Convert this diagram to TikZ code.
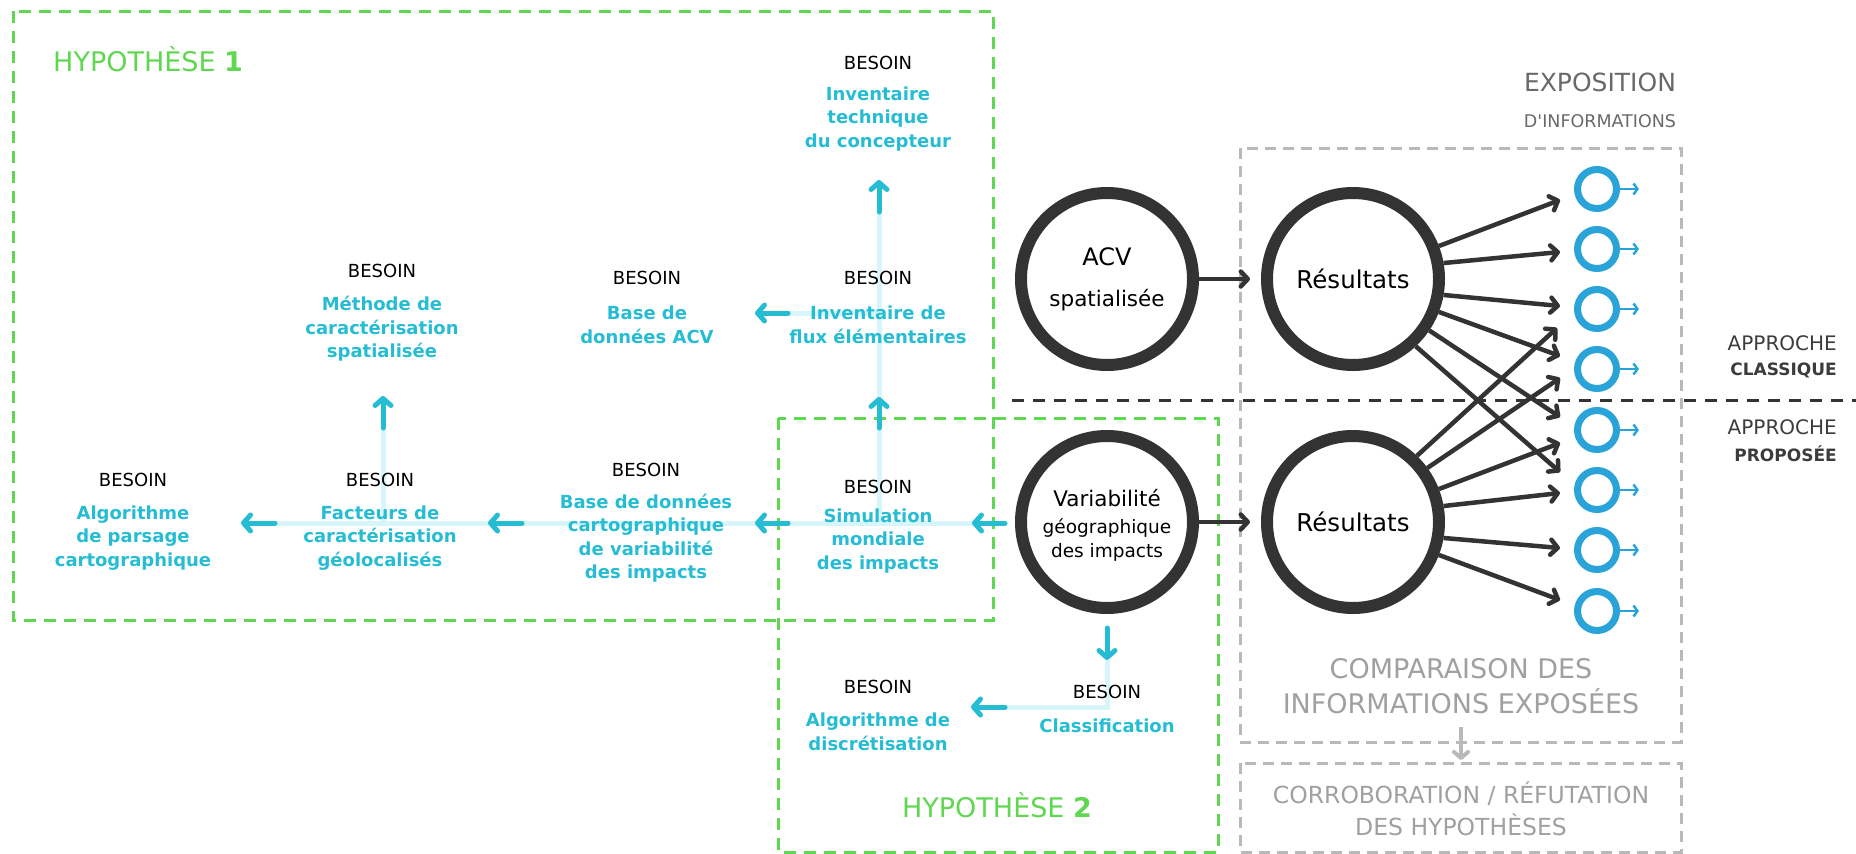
\documentclass[tikz,border=0pt]{standalone}
\usepackage{fontspec}
\setmainfont{DejaVu Sans}
\usetikzlibrary{arrows.meta}
\definecolor{cyT}{RGB}{38,188,212}
\definecolor{cyL}{RGB}{214,246,252}
\definecolor{grn}{RGB}{95,215,80}
\definecolor{drk}{RGB}{51,51,51}
\definecolor{gbox}{RGB}{185,185,185}
\definecolor{gtxt}{RGB}{160,160,160}
\definecolor{gexp}{RGB}{105,105,105}
\definecolor{gapp}{RGB}{60,60,60}
\definecolor{blu}{RGB}{42,163,216}
\begin{document}
\begin{tikzpicture}[x=1pt,y=-1pt,
  need/.style={font=\fontsize{18}{22}\selectfont, text=black, inner sep=0pt},
  lab/.style={font=\fontsize{18}{23.5}\selectfont\bfseries, text=cyT, align=center, inner sep=0pt},
  link/.style={cyL, line width=5pt},
  carrow/.style={cyT, line width=5pt, line cap=round, -{Straight Barb[length=7pt,width=16pt,round]}},
  karrow/.style={drk, line width=4.5pt, -{Straight Barb[length=7pt,width=15pt,round]}},
  garrow/.style={gbox, line width=4pt, -{Straight Barb[length=6pt,width=14pt,round]}},
  big/.style={circle, draw=drk, line width=12pt, minimum size=172pt, inner sep=0pt},
  ring/.style={circle, draw=blu, line width=7pt, minimum size=39pt, inner sep=0pt},
  barrow/.style={blu, line width=2.5pt, -{Straight Barb[length=4pt,width=11pt]}},
  hyp/.style={draw=grn, line width=3pt, dash pattern=on 12pt off 8pt},
  gbx/.style={draw=gbox, line width=3pt, dash pattern=on 11pt off 7pt},
  sep/.style={draw=drk, line width=3pt, dash pattern=on 12pt off 9pt},
  ctext/.style={font=\fontsize{24.5}{26}\selectfont, text=black, inner sep=0pt, anchor=base},
]
\useasboundingbox (0,0) rectangle (1856,854);

% hypothesis frames
\draw[hyp] (13,11) rectangle (993,620);
\draw[hyp] (778,418) rectangle (1218,852);
\node[font=\fontsize{27}{27}\selectfont, text=grn, anchor=base west, inner sep=0pt] (h1) at (53,71) {HYPOTHÈSE {\bfseries 1}};
\node[font=\fontsize{27}{27}\selectfont, text=grn, anchor=base, inner sep=0pt] (h2) at (997,817) {HYPOTHÈSE {\bfseries 2}};

% gray frames
\draw[gbx] (1240,148) rectangle (1681,742);
\draw[gbx] (1240,763) rectangle (1681,852);
% separator
\coordinate (s1) at (1012,400);
\coordinate (s2) at (1856,400);
\draw[sep] (s1) -- (s2);

% tree coordinates
\coordinate (a5t) at (275,523); \coordinate (a5h) at (241,523);
\coordinate (a6t) at (522,523); \coordinate (a6h) at (488,523);
\coordinate (a7t) at (788,523); \coordinate (a7h) at (755,523);
\coordinate (a8t) at (1005,523); \coordinate (a8h) at (972,523);
\coordinate (j6) at (383,523); \coordinate (a4t) at (383,428); \coordinate (a4h) at (383,396);
\coordinate (j8) at (879,523);
\coordinate (a2t) at (879,428); \coordinate (a2h) at (879,397);
\coordinate (a1t) at (879,212); \coordinate (a1h) at (879,180);
\coordinate (j2) at (879,313); \coordinate (a3t) at (788,313); \coordinate (a3h) at (755,313);
\coordinate (a10t) at (1107,628); \coordinate (a10h) at (1107,660);
\coordinate (j10) at (1107,707); \coordinate (a9t) at (1005,707); \coordinate (a9h) at (971,707);

% light links
\draw[link] (a5t) -- (a8t);
\draw[link] (j6) -- (a4t);
\draw[link] (j8) -- (a1t);
\draw[link] (j2) -- (a3t);
\draw[link] (a10h) -- (j10) -- (a9t);

% cyan arrows
\foreach \t/\h in {a1t/a1h,a2t/a2h,a3t/a3h,a4t/a4h,a5t/a5h,a6t/a6h,a7t/a7h,a8t/a8h,a9t/a9h,a10t/a10h}
  \draw[carrow] (\t) -- (\h);

% needs
\node[need] (b1) at (878,63) {BESOIN};
\node[lab] (l1) at (878,119) {Inventaire\\technique\\du concepteur};
\node[need] (b2) at (878,278) {BESOIN};
\node[lab] (l2) at (878,325) {Inventaire de\\flux élémentaires};
\node[need] (b3) at (647,278) {BESOIN};
\node[lab] (l3) at (647,325) {Base de\\données ACV};
\node[need] (b4) at (382,271) {BESOIN};
\node[lab] (l4) at (382,329) {Méthode de\\caractérisation\\spatialisée};
\node[need] (b5) at (133,480) {BESOIN};
\node[lab] (l5) at (133,538) {Algorithme\\de parsage\\cartographique};
\node[need] (b6) at (380,480) {BESOIN};
\node[lab] (l6) at (380,538) {Facteurs de\\caractérisation\\géolocalisés};
\node[need] (b7) at (646,470) {BESOIN};
\node[lab] (l7) at (646,538) {Base de données\\cartographique\\de variabilité\\des impacts};
\node[need] (b8) at (878,487) {BESOIN};
\node[lab] (l8) at (878,541) {Simulation\\mondiale\\des impacts};
\node[need] (b9) at (878,687) {BESOIN};
\node[lab] (l9) at (878,732) {Algorithme de\\discrétisation};
\node[need] (b10) at (1107,692) {BESOIN};
\node[lab] (l10) at (1107,726) {Classification};

% big circles
\node[big] (acv) at (1107,279) {};
\node[big] (res1) at (1353,279) {};
\node[big] (var) at (1107,522) {};
\node[big] (res2) at (1353,522) {};
\node[ctext, font=\fontsize{24}{26}\selectfont] (acvt1) at (1107,265) {ACV};
\node[ctext, font=\fontsize{21.5}{24}\selectfont] (acvt2) at (1107,306) {spatialisée};
\node[ctext] (res1t) at (1353,288) {Résultats};
\node[ctext] (res2t) at (1353,531) {Résultats};
\node[ctext, font=\fontsize{21.5}{24}\selectfont] (vart1) at (1107,506) {Variabilité};
\node[ctext, font=\fontsize{18.5}{22}\selectfont] (vart2) at (1107,533) {géographique};
\node[ctext, font=\fontsize{18.5}{22}\selectfont] (vart3) at (1107,557) {des impacts};

\draw[karrow, shorten >=11pt] (acv.east) -- (res1.west);
\draw[karrow, shorten >=11pt] (var.east) -- (res2.west);

% output rings
\foreach \i/\y in {1/189,2/249,3/309,4/369,5/430,6/490,7/550,8/611}{
  \node[ring] (o\i) at (1597,\y) {};
  \draw[barrow] (o\i.east) -- ++(19,0);
}

% targets
\coordinate (t1) at (1560,200); \coordinate (t2) at (1560,252);
\coordinate (t3) at (1560,306); \coordinate (t4) at (1560,356);
\coordinate (t5) at (1560,417); \coordinate (t6) at (1560,472);
\coordinate (u1) at (1557,328); \coordinate (u2) at (1560,378);
\coordinate (u3) at (1560,443); \coordinate (u4) at (1560,493);
\coordinate (u5) at (1560,548); \coordinate (u6) at (1560,600);
\foreach \a/\t in {21/t1,10/t2,-10/t3,-21/t4,-34/t5,-47/t6}
  \draw[karrow] (res1.\a) -- (\t);
\foreach \a/\t in {46/u1,36/u2,21/u3,10/u4,-10/u5,-21/u6}
  \draw[karrow] (res2.\a) -- (\t);

% right side texts
\node[font=\fontsize{25}{26}\selectfont, text=gexp, inner sep=0pt] (ex1) at (1600,82) {EXPOSITION};
\node[font=\fontsize{17.5}{20}\selectfont, text=gexp, inner sep=0pt] (ex2) at (1600,121) {D\textquotesingle INFORMATIONS};
\node[font=\fontsize{20}{22}\selectfont, text=gapp, anchor=east, inner sep=0pt] (ap1) at (1837,343) {APPROCHE};
\node[font=\fontsize{17}{20}\selectfont\bfseries, text=gapp, anchor=east, inner sep=0pt] (ap2) at (1837,370) {CLASSIQUE};
\node[font=\fontsize{20}{22}\selectfont, text=gapp, anchor=east, inner sep=0pt] (ap3) at (1837,427) {APPROCHE};
\node[font=\fontsize{17}{20}\selectfont\bfseries, text=gapp, anchor=east, inner sep=0pt] (ap4) at (1837,454) {PROPOSÉE};

\node[font=\fontsize{27}{35}\selectfont, text=gtxt, align=center, inner sep=0pt] (cmp) at (1461,686) {COMPARAISON DES\\INFORMATIONS EXPOSÉES};
\node[font=\fontsize{23.5}{32}\selectfont, text=gtxt, align=center, inner sep=0pt] (cor) at (1461,809) {CORROBORATION / RÉFUTATION\\DES HYPOTHÈSES};
\coordinate (g1) at (1461,727); \coordinate (g2) at (1461,760);
\draw[garrow] (g1) -- (g2);
\end{tikzpicture}
\end{document}
